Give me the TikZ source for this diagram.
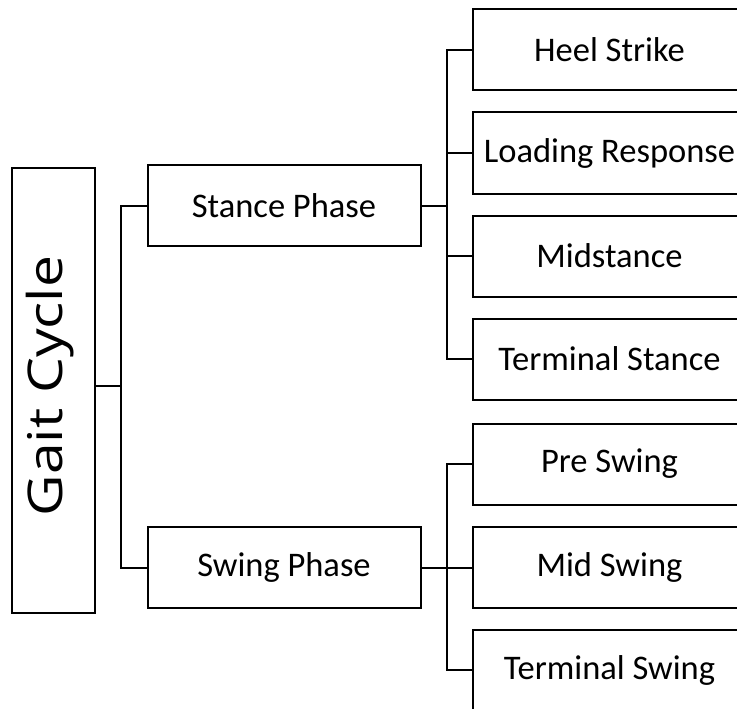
\documentclass[tikz,border=0pt]{standalone}
\usepackage{fontspec}
\usepackage{graphicx}
\setmainfont{Carlito}
\newfontfamily\rootfont{Open Sans}
\begin{document}
\begin{tikzpicture}[x=1pt,y=-1pt,
  box/.style={draw,line width=2pt,inner sep=0pt,minimum width=273pt,minimum height=81pt,
    font=\fontsize{34.5}{38}\selectfont},
  link/.style={line width=2pt}]
\useasboundingbox (0,0) rectangle (737,709);
\clip (0,0) rectangle (737,709);
% root
\node[draw,line width=2pt,inner sep=0pt,minimum width=83pt,minimum height=445pt] (gait) at (53.5,390.5) {};
\node[rotate=90,inner sep=0pt,font=\rootfont\fontsize{57}{60}\selectfont] (gaittext) at (50,386)
  {\scalebox{1}[0.84]{Gait Cycle}};
% phases
\node[box] (stance) at (284,205.5) {Stance Phase};
\node[box] (swing) at (284,567.5) {Swing Phase};
% stance sub-phases
\node[box] (hs) at (609.5,50) {Heel Strike};
\node[box] (lr) at (609.5,153) {Loading Response};
\node[box] (ms) at (609.5,256) {Midstance};
\node[box] (ts) at (609.5,359) {Terminal Stance};
% swing sub-phases
\node[box] (ps) at (609.5,464) {Pre Swing};
\node[box] (mw) at (609.5,567.5) {Mid Swing};
\node[box] (tw) at (609.5,670) {Terminal Swing};
% junctions
\coordinate (hub) at (121,386);
\coordinate (sj) at (447,205.5);
\coordinate (wj) at (447,567.5);
% root to phases
\draw[link] (hub -| gait.east) -- (hub);
\draw[link] (stance.west) -| (hub);
\draw[link] (swing.west) -| (hub);
% stance to its sub-phases
\draw[link] (stance.east) -- (sj);
\foreach \c in {hs,lr,ms,ts} \draw[link] (\c.west) -| (sj);
% swing to its sub-phases
\draw[link] (swing.east) -- (wj);
\foreach \c in {ps,mw,tw} \draw[link] (\c.west) -| (wj);
\end{tikzpicture}
\end{document}
